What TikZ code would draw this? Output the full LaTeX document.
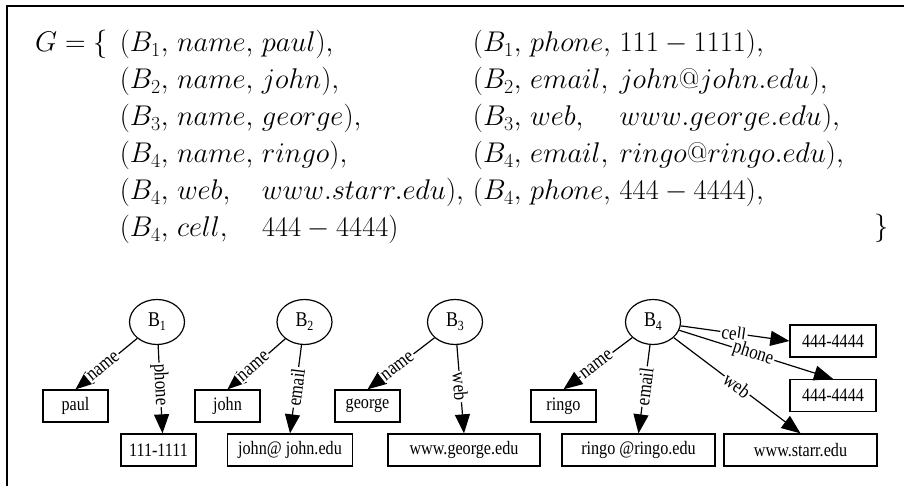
\RequirePackage{fix-cm}
\documentclass[tikz,border=0pt]{standalone}
\usepackage{fontspec}
\newfontfamily\gfont[FakeStretch=0.85]{Liberation Serif}
\usetikzlibrary{arrows.meta,shapes.geometric}

\tikzset{
  ent/.style={ellipse, draw, line width=1.2pt, minimum width=55pt, minimum height=45pt, inner sep=0pt,
              font=\gfont\fontsize{21}{21}\selectfont},
  val/.style={rectangle, draw, line width=1.3pt, minimum height=32pt, inner sep=0pt,
              font=\gfont\fontsize{19}{19}\selectfont},
  rel/.style={draw, line width=1.2pt, -{Triangle[length=19pt,width=15pt]}},
  lab/.style={sloped, fill=white, inner sep=1.5pt, font=\gfont\fontsize{20}{20}\selectfont},
  mathtxt/.style={inner sep=0pt, font=\fontsize{28.5}{37}\selectfont}
}
\newcommand{\bsub}[1]{B\raisebox{-4pt}{\fontsize{14}{14}\selectfont #1}}

\begin{document}
\begin{tikzpicture}[x=1pt,y=-1pt]
\useasboundingbox (0,0) rectangle (904,486);

% frame lines (top and left)
\draw[line width=1.5pt] (7,486) -- (7,6) -- (904,6);

% the set of triples, one column per component
\node[mathtxt, anchor=base west] (set) at (35,52) {\setlength{\arraycolsep}{0pt}%
$G = \{\hspace{12pt}\begin{array}[t]{@{}lll@{\hspace{9pt}}lll@{}}
(B_1,\ & name,\ & paul), & (B_1,\ & phone,\ & 111-1111),\\
(B_2,\ & name,\ & john), & (B_2,\ & email,\ & john@john.edu),\\
(B_3,\ & name,\ & george), & (B_3,\ & web,\ & www.george.edu),\\
(B_4,\ & name,\ & ringo), & (B_4,\ & email,\ & ringo@ringo.edu),\\
(B_4,\ & web,\ & www.starr.edu), & (B_4,\ & phone,\ & 444-4444),\\
(B_4,\ & cell,\ & 444-4444) & & &
\end{array}$};
\node[mathtxt, anchor=base west] (close) at (874,236) {$\}$};

% entity nodes
\node[ent] (B1) at (157,322) {\bsub{1}};
\node[ent] (B2) at (304.5,322) {\bsub{2}};
\node[ent] (B3) at (455,322) {\bsub{3}};
\node[ent] (B4) at (653,322) {\bsub{4}};

% value nodes
\node[val, minimum width=65pt] (paul) at (75.5,406) {paul};
\node[val, minimum width=75pt] (p1) at (158.5,450) {111-1111};
\node[val, minimum width=65pt] (john) at (227.5,406) {john};
\node[val, minimum width=125pt] (jmail) at (290,450) {john@ john.edu};
\node[val, minimum width=65pt] (george) at (367.5,406) {george};
\node[val, minimum width=152pt] (gweb) at (464,450) {www.george.edu};
\node[val, minimum width=65pt] (ringo) at (563.5,406) {ringo};
\node[val, minimum width=153pt] (rmail) at (638.5,450) {ringo @ringo.edu};
\node[val, minimum width=153pt] (rweb) at (800.5,450) {www.starr.edu};
\node[val, minimum width=86pt] (rcell) at (833,341) {444-4444};
\node[val, minimum width=86pt] (rphone) at (833,395.5) {444-4444};

% relations
\draw[rel] (B1) -- node[lab,pos=.55]{name} (paul.north);
\draw[rel] (B1) -- node[lab,pos=.45]{phone} ([xshift=4pt]p1.north);
\draw[rel] (B2) -- node[lab,pos=.55]{name} (john.north);
\draw[rel] (B2) -- node[lab,pos=.48]{email} (jmail.north);
\draw[rel] (B3) -- node[lab,pos=.55]{name} (george.north);
\draw[rel] (B3) -- node[lab,pos=.47]{web} (gweb.north);
\draw[rel] (B4) -- node[lab,pos=.52]{name} (ringo.north);
\draw[rel] (B4) -- node[lab,pos=.47]{email} (rmail.north);
\draw[rel] (B4) -- node[lab,pos=.49]{cell} (rcell.west);
\draw[rel] (B4) -- node[lab,pos=.48]{phone} (rphone.north);
\draw[rel] (B4) -- node[lab,pos=.5]{web} (rweb.north);
\end{tikzpicture}
\end{document}
